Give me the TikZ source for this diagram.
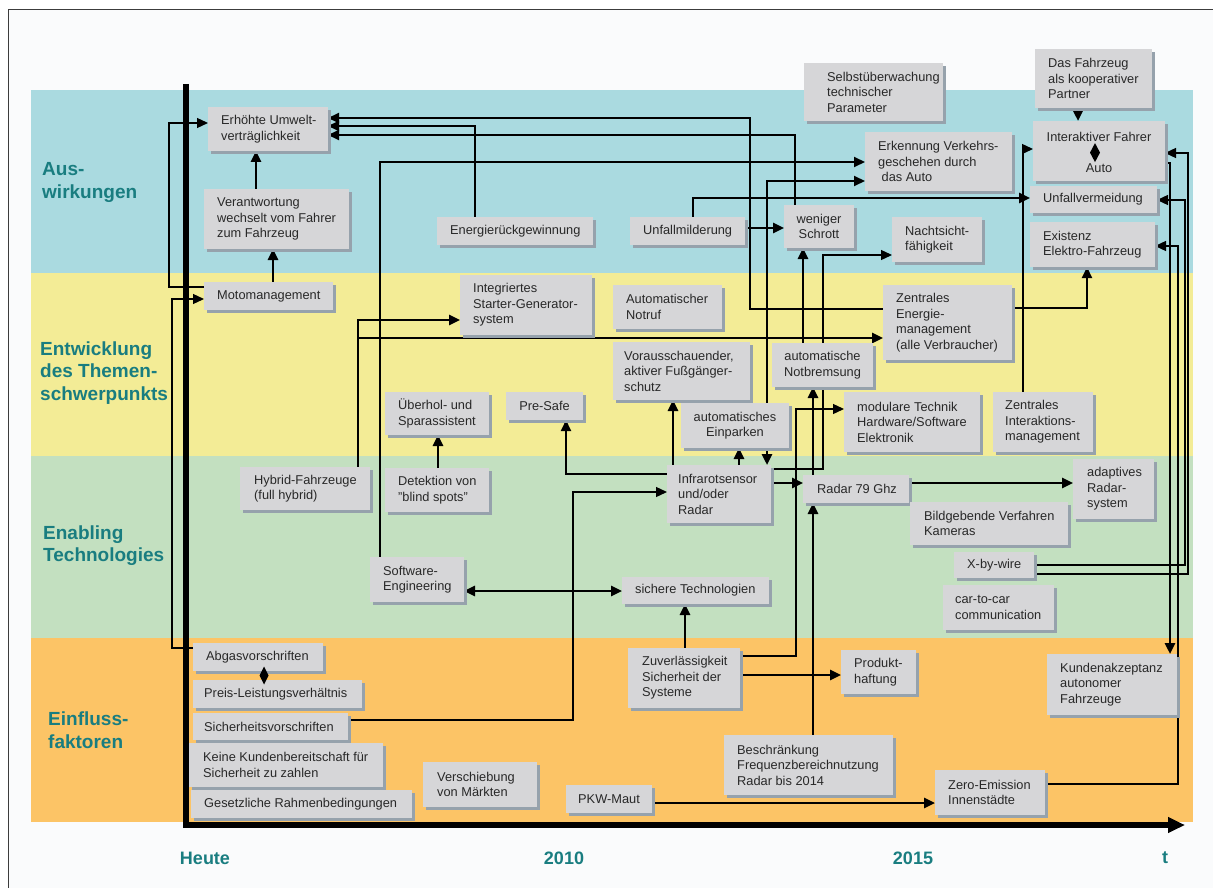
\documentclass[tikz,border=0pt]{standalone}
\usepackage{fontspec}
\setmainfont{Liberation Sans}
\usetikzlibrary{arrows.meta,calc}
\pgfdeclarelayer{bg}
\pgfdeclarelayer{lines}
\pgfsetlayers{bg,lines,main}
\definecolor{bandblue}{RGB}{170,218,224}
\definecolor{bandyellow}{RGB}{243,236,150}
\definecolor{bandgreen}{RGB}{195,224,192}
\definecolor{bandorange}{RGB}{252,196,102}
\definecolor{paper}{RGB}{250,251,252}
\definecolor{boxgray}{RGB}{214,214,216}
\definecolor{shadowc}{RGB}{150,162,172}
\definecolor{textc}{RGB}{40,40,40}
\definecolor{tealc}{RGB}{25,125,128}
\definecolor{framec}{RGB}{60,60,60}
\tikzset{
  boxst/.style={fill=boxgray, inner sep=0pt, outer sep=0pt},
  txt/.style={font=\fontsize{12.8}{15.5}\selectfont, text=textc, inner sep=0pt, align=left},
  cat/.style={font=\fontsize{19}{22.5}\selectfont\bfseries, text=tealc, inner sep=0pt, align=left, anchor=west},
  yr/.style={font=\fontsize{18}{22}\selectfont\bfseries, text=tealc, inner sep=0pt},
  arrtip/.style={-{Triangle[length=11pt,width=10pt]}},
  lnthick/.style={line width=2.6pt, arrtip},
  lnmed/.style={line width=1.9pt, arrtip},
  lnthin/.style={line width=1.3pt, arrtip},
}
\newcommand\boxL[7][13]{%
  \fill[shadowc] ({#3+3},{#4+3}) rectangle ({#5+3},{#6+3});
  \node[boxst, minimum width={#5-#3}, minimum height={#6-#4}] (#2) at ({(#3+#5)/2},{(#4+#6)/2}) {};
  \node[txt, anchor=west] at ({#3+#1},{(#4+#6)/2}) {#7};
}
\newcommand\boxC[6]{%
  \fill[shadowc] ({#2+3},{#3+3}) rectangle ({#4+3},{#5+3});
  \node[boxst, minimum width={#4-#2}, minimum height={#5-#3}] (#1) at ({(#2+#4)/2},{(#3+#5)/2}) {};
  \node[txt, align=center] at (#1.center) {#6};
}
\begin{document}
\begin{tikzpicture}[x=1pt,y=-1pt]
\useasboundingbox (0,0) rectangle (1213,888);
\begin{pgfonlayer}{bg}
\fill[white] (0,0) rectangle (1213,888);
\fill[paper] (8,10) rectangle (1213,888);
\draw[framec, line width=1pt] (8,888) -- (8,10) -- (1213,10);
\fill[bandblue] (31,90) rectangle (1193,273);
\fill[bandyellow] (31,273) rectangle (1193,456);
\fill[bandgreen] (31,456) rectangle (1193,638);
\fill[bandorange] (31,638) rectangle (1193,822);
\end{pgfonlayer}

% category labels
\node[cat] (lab1) at (42,182.5) {Aus-\\wirkungen};
\node[cat] (lab2) at (40,373) {Entwicklung\\des Themen-\\schwerpunkts};
\node[cat] (lab3) at (43,545.5) {Enabling\\Technologies};
\node[cat] (lab4) at (48,730) {Einfluss-\\faktoren};
% years
\node[yr] (heute) at (205,858) {Heute};
\node[yr] (y2010) at (564,858) {2010};
\node[yr] (y2015) at (913,858) {2015};
\node[yr] (yt) at (1165,858) {t};

% boxes
\boxL{umw}{208}{107}{328}{151}{Erhöhte Umwelt-\\verträglichkeit}
\boxL{verant}{204}{189}{349}{249}{Verantwortung\\wechselt vom Fahrer\\zum Fahrzeug}
\boxL{moto}{204}{282}{333}{310}{Motomanagement}
\boxL{ener}{437}{217}{593}{245}{Energierückgewinnung}
\boxL{umild}{630}{217}{745}{245}{Unfallmilderung}
\boxC{schrott}{784}{205}{854}{248}{weniger\\Schrott}
\boxL[23]{selbst}{804}{63}{943}{121}{Selbstüberwachung\\technischer\\Parameter}
\boxL{erk}{865}{132}{1012}{191}{Erkennung Verkehrs-\\geschehen durch\\\hspace*{3.5pt}das Auto}
\boxL{nacht}{892}{217}{982}{262}{Nachtsicht-\\fähigkeit}
\boxL{dasf}{1035}{49}{1152}{108}{Das Fahrzeug\\als kooperativer\\Partner}
\boxC{inter}{1033}{121}{1165}{181}{}
\node[txt] (interA) at (1099,137) {Interaktiver Fahrer};
\node[txt] (interB) at (1099,168) {Auto};
\fill[black] ($(interA.south -| 1095,0)!0.5!(interB.north -| 1095,0)$) ++(0,-9.5) -- ++(5,9.5) -- ++(-5,9.5) -- ++(-5,-9.5) -- cycle;
\boxL{uverm}{1030}{186}{1157}{213}{Unfallvermeidung}
\boxL{exist}{1030}{222}{1155}{267}{Existenz\\Elektro-Fahrzeug}
\boxL{isg}{460}{275}{592}{335}{Integriertes\\Starter-Generator-\\system}
\boxL{notruf}{613}{285}{722}{329}{Automatischer\\Notruf}
\boxL{zem}{883}{285}{1012}{360}{Zentrales\\Energie-\\management\\(alle Verbraucher)}
\boxL[11]{vor}{613}{342}{750}{400}{Vorausschauender,\\aktiver Fußgänger-\\schutz}
\boxC{notb}{772}{343}{873}{387}{automatische\\Notbremsung}
\boxL{ueb}{385}{392}{489}{435}{Überhol- und\\Sparassistent}
\boxC{presafe}{506}{392}{583}{420}{Pre-Safe}
\boxC{einp}{681}{403}{789}{448}{automatisches\\Einparken}
\boxL{modul}{844}{392}{980}{452}{modulare Technik\\Hardware/Software\\Elektronik}
\boxL[12]{zim}{993}{392}{1093}{452}{Zentrales\\Interaktions-\\management}
\boxL[14]{hyb}{240}{467}{370}{510}{Hybrid-Fahrzeuge\\(full hybrid)}
\boxL{det}{385}{468}{489}{512}{Detektion von\\"blind spots"}
\boxL[11]{infra}{667}{465}{771}{523}{Infrarotsensor\\und/oder\\Radar}
\boxL[14]{radar}{803}{475}{909}{503}{Radar 79 Ghz}
\boxL[14]{adapt}{1073}{459}{1154}{519}{adaptives\\Radar-\\system}
\boxL[14]{bild}{910}{502}{1068}{545}{Bildgebende Verfahren\\Kameras}
\boxL{xby}{954}{552}{1034}{578}{X-by-wire}
\boxL[12]{c2c}{943}{585}{1054}{630}{car-to-car\\communication}
\boxL{sw}{370}{557}{464}{602}{Software-\\Engineering}
\boxL{sich}{622}{577}{769}{604}{sichere Technologien}
\boxL{abgas}{193}{643}{323}{671}{Abgasvorschriften}
\boxL[11]{preis}{193}{680}{362}{708}{Preis-Leistungsverhältnis}
\boxL[11]{sichv}{193}{713}{348}{740}{Sicherheitsvorschriften}
\boxL[14]{keine}{189}{743}{383}{787}{Keine Kundenbereitschaft für\\Sicherheit zu zahlen}
\boxL{gesetz}{191}{790}{412}{818}{Gesetzliche Rahmenbedingungen}
\boxL[14]{versch}{423}{762}{537}{807}{Verschiebung\\von Märkten}
\boxL[12]{pkw}{566}{785}{652}{813}{PKW-Maut}
\boxL[14]{zuv}{628}{648}{740}{708}{Zuverlässigkeit\\Sicherheit der\\Systeme}
\boxL{prod}{841}{650}{916}{694}{Produkt-\\haftung}
\boxL{besch}{724}{735}{893}{795}{Beschränkung\\Frequenzbereichnutzung\\Radar bis 2014}
\boxL{zero}{935}{770}{1045}{815}{Zero-Emission\\Innenstädte}
\boxL{kund}{1047}{654}{1177}{715}{Kundenakzeptanz\\autonomer\\Fahrzeuge}

\fill[black] ($(abgas.south -| 264,0)!0.5!(preis.north -| 264,0)$) ++(0,-9) -- ++(4.5,9) -- ++(-4.5,9) -- ++(-4.5,-9) -- cycle;

\begin{pgfonlayer}{lines}
\draw[lnmed] (zem.west |- 0,309) -| (750,118) -- (umw.east |- 0,118);
\draw[lnmed] (ener.north -| 475,0) |- (umw.east |- 0,126);
\draw[lnmed] (schrott.north -| 795,0) |- (umw.east |- 0,135);
\draw[lnmed] (sw.north -| 380,0) |- (erk.west |- 0,162);
\draw[lnmed] (einp.north -| 767,0) |- (erk.west |- 0,181);
\draw[lnthick] (umild.north -| 693,0) |- (uverm.west |- 0,198);
\draw[lnthick] (umild.east |- 0,228) -- (schrott.west |- 0,228);
\draw[lnthin] (moto.west |- 0,287) -| (169,123) -- (umw.west |- 0,123);
\draw[lnthick] (verant.north -| 256,0) -- (umw.south -| 256,0);
\draw[lnthick] (moto.north -| 273,0) -- (verant.south -| 273,0);
\draw[lnthin] (abgas.west |- 0,648) -| (172,299) -- (moto.west |- 0,299);
\draw[lnthick] (hyb.north -| 358,0) |- (isg.west |- 0,320);
\draw[lnthick] (hyb.north -| 358,0) |- (zem.west |- 0,338);
\draw[lnthick] (notb.north -| 803,0) -- (schrott.south -| 803,0);
\draw[lnthin] (infra.east |- 0,469) -| (823,255) -- (nacht.west |- 0,255);
\draw[lnthick] (radar.north -| 813,0) -- (notb.south -| 813,0);
\draw[lnthin] (zuv.east |- 0,656) -| (796,409) -- (modul.west |- 0,409);
\draw[lnthick] (zuv.east |- 0,675) -- (prod.west |- 0,675);
\draw[lnthick] (zuv.north -| 685,0) -- (sich.south -| 685,0);
\draw[line width=2.6pt, {Triangle[length=11pt,width=10pt]}-{Triangle[length=11pt,width=10pt]}] (sw.east |- 0,591) -- (sich.west |- 0,591);
\draw[lnthin] (sichv.east |- 0,720) -| (573,492) -- (infra.west |- 0,492);
\draw[lnmed] (infra.west |- 0,474) -| (presafe.south -| 566,0);
\draw[lnthick] (infra.north -| 673,0) -- (vor.south -| 673,0);
\draw[lnthick] (infra.north -| 739,0) -- (einp.south -| 739,0);
\draw[lnthick] (einp.south -| 767,0) -- (infra.north -| 767,0);
\draw[lnthick] (infra.east |- 0,483) -- (radar.west |- 0,483);
\draw[lnthick] (radar.east |- 0,483) -- (adapt.west |- 0,483);
\draw[lnthick] (det.north -| 438,0) -- (ueb.south -| 438,0);
\draw[lnthick] (besch.north -| 813,0) -- (radar.south -| 813,0);
\draw[lnthick] (pkw.east |- 0,803) -- (zero.west |- 0,803);
\draw[lnthick] (dasf.south -| 1078,0) -- (inter.north -| 1078,0);
\draw[lnthin] (zim.north -| 1023,0) |- (inter.west |- 0,149);
\draw[lnmed] (zem.east |- 0,308) -| (exist.south -| 1087,0);
\draw[lnthin] (zero.east |- 0,784) -| (1178,246) -- (exist.east |- 0,246);
\draw[lnthick] (inter.east |- 0,163) -| (kund.north -| 1170,0);
\draw[lnthin] (xby.east |- 0,565) -| (1185,200) -- (uverm.east |- 0,200);
\draw[lnthin] (xby.east |- 0,574) -| (1188,153) -- (inter.east |- 0,153);
% axes
\coordinate (ax0) at (186,825);
\coordinate (axtop) at (186,84);
\coordinate (axend) at (1185,825);
\draw[line width=6pt] (axtop) -- ([yshift=-3pt]ax0);
\draw[line width=5.5pt, -{Triangle[length=17pt,width=15pt]}] ([xshift=-3pt]ax0) -- (axend);
\end{pgfonlayer}
\end{tikzpicture}
\end{document}
